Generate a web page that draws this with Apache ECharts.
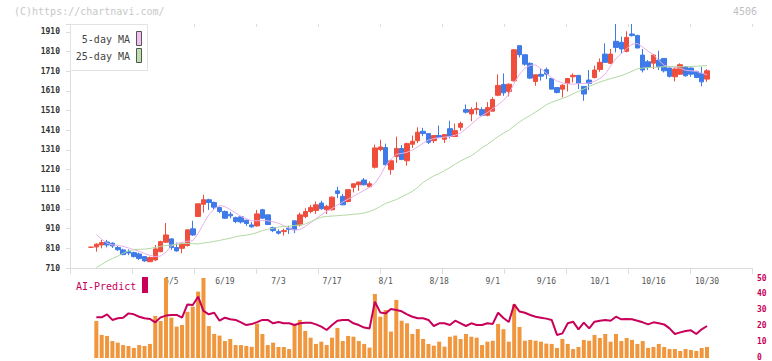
<!DOCTYPE html>
<html><head><meta charset="utf-8">
<script src="https://cdn.jsdelivr.net/npm/echarts@6/dist/echarts.min.js"></script>
<style>html,body{margin:0;padding:0;background:#fff}#c{width:772px;height:361px}</style>
</head><body><div id="c"></div>
<script>
const dates = ['5/15','5/16','5/19','5/20','5/21','5/22','5/23','5/26','5/27','5/28','5/29','5/30',
'6/2','6/3','6/4','6/5','6/6','6/9','6/10','6/11','6/12','6/13','6/16','6/17','6/18','6/19','6/20','6/23','6/24','6/25','6/26','6/27','6/30',
'7/1','7/2','7/3','7/4','7/7','7/8','7/9','7/10','7/11','7/14','7/15','7/16','7/17','7/18','7/22','7/23','7/24','7/25','7/28','7/29','7/30','7/31',
'8/1','8/4','8/5','8/6','8/7','8/8','8/12','8/13','8/14','8/15','8/18','8/19','8/20','8/21','8/22','8/25','8/26','8/27','8/28','8/29',
'9/1','9/2','9/3','9/4','9/5','9/8','9/9','9/10','9/11','9/12','9/16','9/17','9/18','9/19','9/22','9/24','9/25','9/26','9/29','9/30',
'10/1','10/2','10/3','10/6','10/7','10/8','10/9','10/10','10/14','10/15','10/16','10/17','10/20','10/21','10/22','10/23','10/24','10/27','10/28','10/29','10/30'];
const tickLabels = ['6/5','6/19','7/3','7/17','8/1','8/18','9/1','9/16','10/1','10/16','10/30'];
const opens = [815,817,827,842,836,814,802,793,788,781, 768,742,751,793,841,858,814,810,824,909,
972,1034,1057,1043,1017,997,983,966,970,953, 929,924,1006,980,915,895,895,912,950,929,
972,997,1002,1040,1006,1006,1102,1074,1048,1120, 1133,1157,1123,1222,1312,1322,1210,1276,1317,1255,
1339,1357,1405,1393,1357,1383,1364,1418,1378,1425, 1515,1493,1515,1515,1486,1507,1588,1643,1607,1661,
1840,1794,1750,1658,1694,1718,1673,1627,1619,1648, 1682,1689,1633,1665,1678,1719,1797,1750,1862,1857,
1811,1899,1891,1792,1758,1751,1767,1775,1726,1682, 1695,1733,1726,1709,1699,1670];
const closes = [816,831,839,827,822,803,778,786,768,758, 746,763,807,844,878,814,797,832,904,878,
1036,1057,1043,1019,997,963,975,946,944,936, 919,985,963,931,900,887,900,907,904,980,
997,1018,1031,1011,1023,1070,1089,1031,1108,1138, 1147,1133,1138,1320,1325,1235,1255,1317,1261,1342,
1354,1400,1393,1349,1383,1373,1388,1379,1408,1444, 1502,1515,1520,1486,1525,1566,1638,1600,1644,1819,
1794,1746,1675,1692,1685,1695,1619,1602,1639,1673, 1689,1648,1594,1648,1716,1755,1755,1797,1831,1823,
1882,1891,1828,1716,1729,1792,1733,1712,1684,1721, 1743,1687,1695,1678,1656,1712];
const lows = [812,793,810,815,812,797,775,775,763,751, 741,742,746,790,837,802,793,785,819,873,
970,992,1005,1005,989,960,963,938,936,924, 915,920,960,928,892,880,875,883,887,921,
963,988,985,1006,985,1002,1065,1031,1043,1094, 1102,1130,1120,1215,1303,1230,1184,1244,1261,1230,
1320,1345,1380,1340,1345,1373,1345,1369,1378,1408, 1495,1456,1490,1481,1481,1507,1583,1585,1582,1658,
1780,1738,1670,1636,1662,1670,1619,1597,1577,1607, 1653,1619,1560,1614,1673,1707,1755,1746,1806,1801,
1806,1886,1828,1704,1716,1721,1716,1704,1678,1658, 1692,1682,1682,1675,1633,1656];
const highs = [818,836,853,853,840,822,808,805,793,788, 771,768,827,849,939,861,839,836,904,950,
1038,1082,1062,1048,1022,1002,995,971,975,956, 943,1005,1011,980,920,907,910,924,950,992,
1014,1031,1048,1052,1031,1074,1123,1087,1108,1138, 1147,1167,1150,1337,1362,1342,1261,1378,1335,1347,
1383,1425,1422,1393,1383,1434,1388,1459,1444,1454, 1541,1527,1553,1527,1553,1578,1694,1699,1648,1823,
1840,1794,1755,1692,1721,1729,1673,1627,1644,1676, 1699,1689,1633,1716,1738,1775,1852,1823,1950,1886,
1913,1950,1896,1823,1767,1797,1814,1775,1729,1729, 1750,1736,1729,1712,1733,1721];
const ma5 = [null,881,856,836,827,825,820,812,803,795, 784,774,768,771,790,822,835,840,846,848,
885,935,980,1010,1028,1022,1006,990,972,960, 950,950,951,950,945,938,925,912,903,905,
921,940,960,980,997,1012,1030,1045,1060,1074, 1090,1105,1120,1140,1180,1230,1262,1288,1292,1298,
1310,1325,1345,1360,1368,1372,1375,1378,1385,1396, 1418,1440,1465,1485,1500,1520,1540,1562,1592,1650,
1695,1725,1740,1742,1722,1700,1676,1660,1650,1646, 1644,1648,1648,1650,1658,1673,1696,1736,1775,1800,
1825,1847,1851,1832,1812,1794,1765,1740,1733,1730, 1725,1715,1712,1710,1700,1692];
const ma25 = [null,712,728,745,758,770,785,797,803,805, 806,809,815,820,824,827,830,834,835,834,
832,837,840,845,850,856,861,869,874,877, 882,890,900,907,912,918,921,923,926,929,
933,945,958,968,972,974,976,978,980,983, 985,990,997,1008,1023,1038,1048,1058,1072,1085,
1100,1120,1145,1162,1178,1190,1205,1220,1238,1254, 1268,1280,1300,1322,1338,1358,1378,1395,1410,1432,
1452,1470,1485,1503,1520,1540,1552,1562,1572,1582, 1595,1608,1620,1632,1645,1655,1664,1672,1680,1688,
1698,1710,1722,1726,1728,1730,1731,1733,1733,1733, 1733,1733,1734,1735,1737,1739];
const volume = [null,23.1,14.4,13.8,10.6,9.6,8.1,7.5,6.3,8.1, 7.5,8.8,26.3,23.1,50,25.2,19.6,20.6,28.9,32.1,
41.5,50,20,15,14,10.6,11.9,8.1,8.1,7.5, 7,21.5,15,8.1,9.6,6.9,6.9,5.6,20.6,23.8,
16.9,12.7,8.8,10.2,8.1,12.7,18.8,10.6,13.8,13.3, 10.6,8.8,6.5,40,25.8,30,16.5,36.3,23.3,21.7,
15,18.1,11.9,8.8,7.7,10.2,7.1,13.3,14,11.9, 15,13.3,12.7,8.1,10.2,10.8,21.3,18,10.2,33.5,
19.4,10.8,11.3,10.8,10.2,9,8.8,6.3,11.9,8.8, 5.6,6.9,11.3,10.8,14.4,12.5,15,10.2,15,10.6,
12.5,11.3,8.8,10.6,6.3,6.9,8.8,6.9,5.6,5.6, 4.4,5.6,5,4.4,6.3,6.9];
const aiPredict = [null,25.4,25.4,27.3,23.8,24.8,25.2,27.9,27.3,25.8, 24.8,24.4,22.3,25.4,26.5,26.9,26.9,25.2,33.5,33.1,
38.3,29.4,27.3,28.3,23.3,25.2,24.2,23.8,22.3,20.6, 21.2,22.4,23.8,23.8,21.7,22.5,21.7,21.7,20.6,21.7,
22.1,22.1,21,19.6,17.5,20.6,23.3,23.8,23.8,21.7, 20.6,19,18.5,35.2,28.5,27.9,30.6,30,29.2,27.3,
25.8,24.8,24.8,23.8,20,21.7,21.7,20.6,23.3,21.7, 20,21.7,20.6,20.6,21.7,21.3,28.3,25,22.5,33.5,
29,28.3,26.9,25.8,25.2,24.6,23.8,14.4,15.4,21.7, 22.7,17.9,22.1,18.5,22.7,23.3,23.8,23.3,25.8,24.2,
24.4,24.2,23.3,22.3,21,22.3,21.7,21,18.5,15, 16,16.9,17.3,15,17.9,20];
const priceMin = 710, priceMax = 1950, priceStep = 100;
const predictMin = 0, predictMax = 50, predictStep = 10;

const MONO = "'DejaVu Sans Mono', 'Liberation Mono', monospace";
const chart = echarts.init(document.getElementById('c'), null, {renderer: 'svg'});
const candleData = dates.map((d, i) => [opens[i], closes[i], lows[i], highs[i]]);
const gridLine = '#dcdcdc';

chart.setOption({
  animation: false,
  backgroundColor: '#fff',
  grid: [
    {left: 70, right: 20, top: 24, height: 244},
    {left: 88.3, right: 62.3, top: 24, height: 244},
    {left: 88.3, right: 62.3, top: 278, height: 80},
    {left: 70, right: 20, top: 278, height: 80}
  ],
  xAxis: [
    {gridIndex: 0, type: 'value', min: 0, max: 11, interval: 1,
      axisLine: {show: true, lineStyle: {color: gridLine}},
      axisTick: {show: true, length: 6, lineStyle: {color: gridLine}},
      axisLabel: {show: false}, splitLine: {show: false}},
    {gridIndex: 0, type: 'value', min: 0, max: 11, interval: 1,
      axisLine: {show: false},
      axisTick: {show: true, inside: true, length: 3, lineStyle: {color: gridLine}},
      axisLabel: {show: false}, splitLine: {show: false}},
    {gridIndex: 1, type: 'category', data: dates, boundaryGap: true,
      axisLine: {show: false}, axisTick: {show: false}, splitLine: {show: false},
      axisLabel: {show: true, interval: (idx, val) => tickLabels.includes(val),
        margin: 9, color: '#555', fontSize: 8, fontFamily: MONO}},
    {gridIndex: 2, type: 'category', data: dates, boundaryGap: true, show: false},
    {gridIndex: 3, type: 'value', min: 0, max: 1, show: false}
  ],
  yAxis: [
    {gridIndex: 0, type: 'value', min: priceMin, max: priceMax, interval: priceStep,
      axisLine: {show: true, lineStyle: {color: gridLine}},
      axisTick: {show: true, length: 4, lineStyle: {color: gridLine}},
      axisLabel: {show: true, margin: 10, color: '#333', fontSize: 8, fontWeight: 'bold', fontFamily: MONO,
        showMaxLabel: false, formatter: v => String(v)},
      splitLine: {show: false}},
    {gridIndex: 0, type: 'value', min: priceMin, max: priceMax, interval: priceStep,
      axisLine: {show: false},
      axisTick: {show: true, inside: true, length: 4, lineStyle: {color: gridLine}},
      axisLabel: {show: false}, splitLine: {show: false}},
    {gridIndex: 1, type: 'value', min: priceMin, max: priceMax, show: false},
    {gridIndex: 2, type: 'value', min: predictMin, max: predictMax, show: false},
    {gridIndex: 3, type: 'value', position: 'right', min: predictMin, max: predictMax, interval: predictStep,
      axisLine: {show: false}, axisTick: {show: false}, splitLine: {show: false},
      axisLabel: {show: true, margin: 5, color: '#c8005a', fontSize: 8, fontWeight: 'bold', fontFamily: MONO}}
  ],
  series: [
    {type: 'candlestick', name: 'price', xAxisIndex: 2, yAxisIndex: 2, data: candleData,
      barWidth: 5, clip: true,
      itemStyle: {color: '#f04e3c', color0: '#3f7be8', borderColor: '#f04e3c', borderColor0: '#3f7be8', borderWidth: 1}},
    {type: 'line', name: '5-day MA', xAxisIndex: 2, yAxisIndex: 2, data: ma5, symbol: 'none',
      lineStyle: {color: '#e6b0ea', width: 1}, z: 3},
    {type: 'line', name: '25-day MA', xAxisIndex: 2, yAxisIndex: 2, data: ma25, symbol: 'none',
      lineStyle: {color: '#b2d9a2', width: 1}, z: 3},
    {type: 'bar', name: 'volume', xAxisIndex: 3, yAxisIndex: 3, data: volume, barWidth: 4,
      itemStyle: {color: '#f0963c'}, clip: true},
    {type: 'line', name: 'AI-Predict', xAxisIndex: 3, yAxisIndex: 3, data: aiPredict, symbol: 'none',
      lineStyle: {color: '#c8005a', width: 2}, z: 4}
  ],
  graphic: [
    {type: 'text', left: 14, top: 6, z: 10, style: {text: '(C)https://chartnavi.com/', fill: '#c8c8c8', font: '10px ' + MONO}},
    {type: 'text', right: 15, top: 6, z: 10, style: {text: '4506', fill: '#c0c0c0', font: '10px ' + MONO}},
    {type: 'rect', z: 10, shape: {x: 70.5, y: 24.5, width: 77, height: 46}, style: {fill: '#fff', stroke: '#e2e2e2', lineWidth: 1}},
    {type: 'text', z: 11, x: 130, y: 39, style: {text: '5-day MA', fill: '#444', font: '10px ' + MONO, textAlign: 'right', textVerticalAlign: 'middle'}},
    {type: 'text', z: 11, x: 130, y: 56, style: {text: '25-day MA', fill: '#444', font: '10px ' + MONO, textAlign: 'right', textVerticalAlign: 'middle'}},
    {type: 'rect', z: 11, shape: {x: 136.5, y: 31.5, width: 5, height: 14}, style: {fill: '#f0c0f0', stroke: '#555', lineWidth: 1}},
    {type: 'rect', z: 11, shape: {x: 136.5, y: 48.5, width: 5, height: 14}, style: {fill: '#bcdfae', stroke: '#555', lineWidth: 1}},
    {type: 'text', z: 11, x: 76, y: 286, style: {text: 'AI-Predict', fill: '#c8005a', font: '10px ' + MONO, textVerticalAlign: 'middle'}},
    {type: 'rect', z: 11, shape: {x: 142, y: 277, width: 6, height: 16}, style: {fill: '#c8005a'}}
  ]
});
</script></body></html>
